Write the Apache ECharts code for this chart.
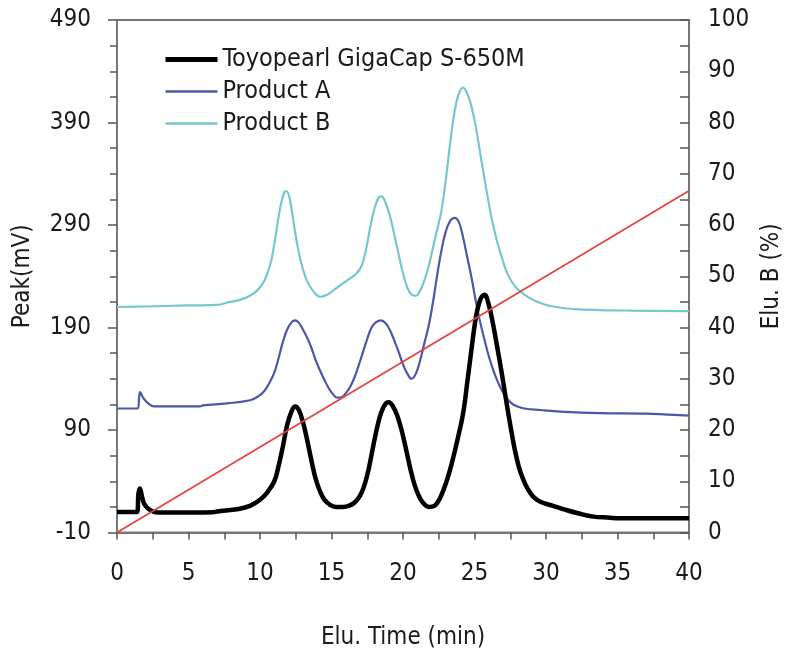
<!DOCTYPE html>
<html>
<head>
<meta charset="utf-8">
<title>Elution profile</title>
<script src="https://cdn.jsdelivr.net/npm/echarts@6/dist/echarts.min.js"></script>
<style>
  html, body { margin: 0; padding: 0; background: #fff; }
  #chart { width: 788px; height: 650px; }
</style>
</head>
<body>
<div id="chart"></div>
<script>
// Elution time (min) and detector signal (mV) for each resin
const toyoTime = [0, 1.4, 1.5, 1.6, 1.75, 1.9, 2.3, 2.8, 4, 6.7, 7, 8.5, 9.3, 10.0, 10.5, 11.0, 11.3, 11.6, 11.9, 12.2, 12.45, 12.7, 13.0, 13.3, 13.6, 13.9, 14.2, 14.5, 14.9, 15.3, 15.8, 16.2, 16.6, 17.0, 17.3, 17.6, 17.9, 18.2, 18.5, 18.8, 19.0, 19.3, 19.6, 19.9, 20.2, 20.5, 20.8, 21.1, 21.4, 21.8, 22.2, 22.6, 23.0, 23.4, 23.8, 24.2, 24.5, 24.8, 25.1, 25.4, 25.7, 26.0, 26.3, 26.6, 26.9, 27.2, 27.5, 27.8, 28.1, 28.4, 28.7, 29.1, 29.6, 30.5, 31.4, 32.3, 33.3, 34.5, 35, 40];
const toyoPeak = [10, 10, 28, 33, 25, 18, 12, 9.5, 9.5, 9.8, 10.5, 13, 16, 22, 29, 40, 55, 74, 95, 108, 113, 110, 98, 80, 60, 42, 30, 22, 17, 15, 15, 16, 19, 26, 36, 52, 73, 93, 108, 116, 117, 113, 104, 90, 72, 53, 37, 26, 19, 15, 16, 24, 38, 57, 80, 106, 137, 170, 200, 217, 222, 212, 193, 170, 146, 120, 95, 72, 54, 42, 33, 25, 20, 16, 12, 8.5, 5.5, 4.5, 3.8, 3.8];

const productATime = [0, 1.45, 1.55, 1.62, 1.8, 2.1, 2.6, 5.8, 6.0, 7.7, 9.3, 9.9, 10.3, 10.7, 11.0, 11.3, 11.6, 11.9, 12.2, 12.45, 12.7, 13.0, 13.3, 13.6, 13.9, 14.2, 14.5, 14.8, 15.1, 15.4, 15.7, 16.0, 16.3, 16.6, 16.9, 17.2, 17.5, 17.8, 18.1, 18.45, 18.8, 19.1, 19.4, 19.7, 20.0, 20.3, 20.6, 20.9, 21.2, 21.5, 21.8, 22.1, 22.4, 22.7, 23.0, 23.3, 23.6, 23.9, 24.2, 24.5, 24.8, 25.1, 25.4, 25.7, 26.0, 26.3, 26.6, 26.9, 27.2, 27.6, 28.0, 28.5, 29.6, 31, 33.8, 37, 38.5, 40];
const productAPeak = [111, 111, 122, 127, 122, 117, 113, 113, 114, 116, 119, 123, 128, 137, 146, 160, 176, 188, 195, 197, 195, 188, 180, 170, 158, 148, 139, 131, 125, 121.5, 122, 126, 132, 141, 153, 166, 179, 190, 195, 197, 194, 187, 177, 166, 154, 145, 140, 145, 158, 175, 192, 215, 242, 266, 284, 294, 297, 293, 278, 258, 238, 215, 195, 178, 162, 149, 138, 129, 122, 116, 113, 111, 109.5, 108, 106.5, 106, 105, 104];

const productBTime = [0, 2, 3.5, 5, 7, 7.9, 8.6, 9.3, 9.8, 10.2, 10.5, 10.8, 11.1, 11.4, 11.7, 11.85, 12.1, 12.4, 12.7, 13.0, 13.3, 13.7, 14.2, 14.7, 15.2, 15.7, 16.2, 16.7, 17.1, 17.4, 17.7, 18.0, 18.3, 18.5, 18.8, 19.1, 19.4, 19.7, 20.0, 20.3, 20.6, 20.9, 21.2, 21.5, 21.8, 22.1, 22.4, 22.7, 23.0, 23.3, 23.6, 23.9, 24.2, 24.5, 24.8, 25.1, 25.4, 25.7, 26.0, 26.3, 26.6, 26.9, 27.2, 27.5, 27.9, 28.4, 29.1, 30.3, 32, 33.8, 36, 40];
const productBPeak = [210, 210.5, 211, 211.5, 212, 215, 217, 221, 226, 233, 242, 256, 280, 306, 322, 323, 314, 288, 264, 247, 235, 226, 220, 222, 227, 232, 237, 242, 250, 265, 287, 306, 317, 318, 311, 298, 280, 261, 243, 229, 222, 221, 226, 236, 250, 268, 286, 305, 335, 370, 400, 418, 424, 418, 405, 385, 360, 335, 311, 290, 273, 259, 246, 237, 229, 223, 217, 211, 208, 207, 206.5, 206];

// Linear gradient of eluent B (%)
const gradientTime = [0, 40];
const gradientB = [0, 66.7];

const seriesNames = ['Toyopearl GigaCap S-650M', 'Product A', 'Product B'];

const pairs = (xs, ys) => xs.map((x, i) => [x, ys[i]]);

const FONT = "'Liberation Sans Narrow', 'DejaVu Sans Condensed', 'Liberation Sans', sans-serif";
const TEXT = '#1a1a1a';
const AXIS = '#777';

const chart = echarts.init(document.getElementById('chart'), null, { renderer: 'canvas' });

const tickStyle = { color: '#555', width: 1.5 };

chart.setOption({
  animation: false,
  textStyle: { fontFamily: FONT },
  grid: {
    left: 117, right: 99, top: 20, bottom: 117.5,
    outerBoundsMode: 'none',
    show: true, borderColor: AXIS, borderWidth: 2, backgroundColor: 'transparent'
  },
  legend: {
    orient: 'vertical',
    left: 163, top: 47, padding: 0,
    itemWidth: 52, itemHeight: 14, itemGap: 7,
    itemStyle: { opacity: 0 },
    textStyle: { fontFamily: FONT, fontSize: 25, color: TEXT, lineHeight: 25 },
    data: [
      { name: seriesNames[0], lineStyle: { width: 5 } },
      { name: seriesNames[1], lineStyle: { width: 2.5 } },
      { name: seriesNames[2], lineStyle: { width: 2.5 } }
    ]
  },
  xAxis: {
    type: 'value', min: 0, max: 40, interval: 5,
    name: 'Elu. Time (min)', nameLocation: 'middle', nameGap: 93,
    nameTextStyle: { fontFamily: FONT, fontSize: 24, color: TEXT },
    axisLine: { show: true, onZero: false, lineStyle: { color: AXIS, width: 2 } },
    axisTick: { show: true, inside: false, length: 7, lineStyle: tickStyle },
    minorTick: { show: true, splitNumber: 2, length: 7, lineStyle: tickStyle },
    splitLine: { show: false },
    axisLabel: { fontFamily: FONT, fontSize: 24, color: TEXT, margin: 29 }
  },
  yAxis: [
    {
      type: 'value', min: -10, max: 490, interval: 100,
      name: 'Peak(mV)', nameLocation: 'middle', nameGap: 82, nameRotate: 90,
      nameTextStyle: { fontFamily: FONT, fontSize: 24, color: TEXT },
      axisLine: { show: true, onZero: false, lineStyle: { color: AXIS, width: 2 } },
      axisTick: { show: true, inside: false, length: 9, lineStyle: tickStyle },
      minorTick: { show: true, splitNumber: 4, length: 7, lineStyle: tickStyle },
      splitLine: { show: false },
      axisLabel: { fontFamily: FONT, fontSize: 24, color: TEXT, margin: 26 }
    },
    {
      type: 'value', min: 0, max: 100, interval: 10, position: 'right',
      name: 'Elu. B (%)', nameLocation: 'middle', nameGap: 70, nameRotate: 90,
      nameTextStyle: { fontFamily: FONT, fontSize: 24, color: TEXT },
      axisLine: { show: true, onZero: false, lineStyle: { color: AXIS, width: 2 } },
      axisTick: { show: true, inside: true, length: 9, lineStyle: tickStyle },
      minorTick: { show: true, splitNumber: 2, length: 9, lineStyle: tickStyle },
      splitLine: { show: false },
      axisLabel: { fontFamily: FONT, fontSize: 24, color: TEXT, margin: 19 }
    }
  ],
  series: [
    {
      name: 'Elu. B', type: 'line', yAxisIndex: 1,
      data: pairs(gradientTime, gradientB),
      symbol: 'none', silent: true,
      lineStyle: { color: '#e8433d', width: 1.8 },
      z: 5
    },
    {
      name: seriesNames[2], type: 'line', yAxisIndex: 0,
      data: pairs(productBTime, productBPeak),
      symbol: 'none', smooth: 0.4,
      itemStyle: { color: '#74c8ce' },
      lineStyle: { color: '#74c8ce', width: 2.2 },
      z: 2
    },
    {
      name: seriesNames[1], type: 'line', yAxisIndex: 0,
      data: pairs(productATime, productAPeak),
      symbol: 'none', smooth: 0.4,
      itemStyle: { color: '#4d57aa' },
      lineStyle: { color: '#4d57aa', width: 2.2 },
      z: 3
    },
    {
      name: seriesNames[0], type: 'line', yAxisIndex: 0,
      data: pairs(toyoTime, toyoPeak),
      symbol: 'none', smooth: 0.4,
      itemStyle: { color: '#000' },
      lineStyle: { color: '#000', width: 4.5 },
      z: 4
    }
  ]
});
</script>
</body>
</html>
